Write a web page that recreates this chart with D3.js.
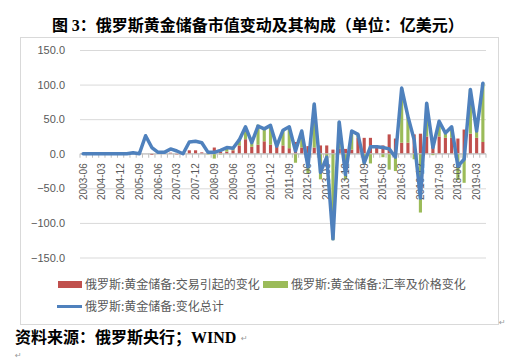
<!DOCTYPE html>
<html><head><meta charset="utf-8">
<script src="https://cdn.jsdelivr.net/npm/d3@7"></script>
<style>body{margin:0;background:#fff}</style></head>
<body>
<svg id="c" width="525" height="362"></svg>
<script>
const quarters = [
"2003-06","2003-09","2003-12","2004-03","2004-06","2004-09","2004-12","2005-03","2005-06","2005-09","2005-12",
"2006-03","2006-06","2006-09","2006-12","2007-03","2007-06","2007-09","2007-12","2008-03","2008-06","2008-09",
"2008-12","2009-03","2009-06","2009-09","2009-12","2010-03","2010-06","2010-09","2010-12","2011-03","2011-06",
"2011-09","2011-12","2012-03","2012-06","2012-09","2012-12","2013-03","2013-06","2013-09","2013-12","2014-03",
"2014-06","2014-09","2014-12","2015-03","2015-06","2015-09","2015-12","2016-03","2016-06","2016-09","2016-12",
"2017-03","2017-06","2017-09","2017-12","2018-03","2018-06","2018-09","2018-12","2019-03","2019-06"];
const tickLabels = ["2003-06","2004-03","2004-12","2005-09","2006-06","2007-03","2007-12","2008-09","2009-06",
"2010-03","2010-12","2011-09","2012-06","2013-03","2013-12","2014-09","2015-06","2016-03","2016-12","2017-09",
"2018-06","2019-03"];
const yTicks = [-150,-100,-50,0,50,100,150];
const seriesNames = ["俄罗斯:黄金储备:交易引起的变化","俄罗斯:黄金储备:汇率及价格变化","俄罗斯:黄金储备:变化总计"];
const tradeChange = [0,0,0,0,0,0,0,0,0,0,0,-1.5,0,0,1.5,-1,0,5,5,2,1,9,3,3,5,12,21,10,13,18,13,11,12,8,17,9,11,9,12,12,6,7,7,6,23,23,23,12,12,28,22,16,16,28,29,25,11,25,23,23,22,35,29,23,17];
const priceChange = [0,0,0,0,0,0,0,0,0,0,0,0,0,0,0,0,0,0,0,0,-1,-7,-1,6,3,9,16,6,29,17,27,2,22,30,-13,23,-28,62,-37,-12,-125,39,-37,27,5,-15,-14,0,-5,-23,-25,79,38,-8,-85,48,-2,22,7,15,-38,-42,64,10,85];
const totalChange = [0,0,0,0,0,0,0,0,1.5,0,26,9,2,2,7,4,0,17,18,16,2,2,5,9,8,20,39,16,40,36,41,11,34,39,4,33,-19,72,-27,-5,-123,46,-30,33,28,-13,10,10,9,7,-5,95,54,20,-64,73,9,47,30,39,-18,-8,93,33,102];

const svg = d3.select("#c");
const cjk = "'Noto Sans CJK SC', 'Noto Sans', sans-serif";
const lat = "'Liberation Sans', Arial, sans-serif";
const serif = "'Liberation Serif', 'Times New Roman', serif";

// frame
svg.append("rect").attr("x",20.5).attr("y",37.5).attr("width",478).attr("height",287)
  .attr("fill","none").attr("stroke","#d9d9d9");

// title
const title = svg.append("text").attr("x",52).attr("y",31).attr("font-family",cjk).attr("font-weight","bold")
  .attr("font-size",16).attr("fill","#000");
title.append("tspan").text("图 ");
title.append("tspan").attr("font-family",serif).text("3");
title.append("tspan").text("：俄罗斯黄金储备市值变动及其构成（单位：亿美元）");

const x = d3.scaleBand().domain(quarters).range([80,486]).paddingInner(0.5).paddingOuter(0.25);
const y = d3.scaleLinear().domain([-150,150]).range([257.5,50]);
const cx = d => x(d) + x.bandwidth()/2;

// y axis with gridlines
const ya = svg.append("g").attr("transform","translate(80,0)")
  .call(d3.axisLeft(y).tickValues(yTicks).tickFormat(d3.format(".1f")).tickSize(-406).tickPadding(15));
ya.select(".domain").remove();
ya.selectAll(".tick line").attr("stroke","#d9d9d9").attr("stroke-width",1);
ya.selectAll(".tick text").attr("font-family",lat).attr("font-size",11).attr("fill","#595959");

// stacked bars
const rows = quarters.map((q,i)=>({q, trade: tradeChange[i], price: priceChange[i]}));
const stack = d3.stack().keys(["trade","price"]).offset(d3.stackOffsetDiverging)(rows);
const colors = {trade:"#c0504d", price:"#9bbb59"};
svg.append("g").selectAll("g").data(stack).join("g").attr("fill",d=>colors[d.key])
  .selectAll("rect").data(d=>d).join("rect")
  .attr("x",d=>x(d.data.q)).attr("width",x.bandwidth())
  .attr("y",d=>y(Math.max(d[0],d[1]))).attr("height",d=>Math.abs(y(d[0])-y(d[1])));

// zero axis with category ticks
const y0 = y(0);
const xa = svg.append("g").attr("transform",`translate(0,${y0})`);
xa.append("line").attr("x1",80).attr("x2",486).attr("y1",0).attr("y2",0).attr("stroke","#bfbfbf");
const step = x.step();
xa.selectAll("line.t").data(d3.range(quarters.length+1)).join("line").attr("class","t")
  .attr("x1",k=>80+k*step).attr("x2",k=>80+k*step).attr("y1",0).attr("y2",4).attr("stroke","#bfbfbf");
xa.selectAll("text").data(tickLabels).join("text")
  .attr("transform",d=>`translate(${cx(d)},${9.5}) rotate(-90)`)
  .attr("text-anchor","end").attr("dy","0.35em")
  .attr("font-family",lat).attr("font-size",10).attr("fill","#595959").text(d=>d);

// total line
const line = d3.line().x((d,i)=>cx(quarters[i])).y(d=>y(d));
svg.append("path").datum(totalChange).attr("d",line).attr("fill","none")
  .attr("stroke","#4f81bd").attr("stroke-width",3.5).attr("stroke-linejoin","round").attr("stroke-linecap","round");

// legend
const lg = svg.append("g").attr("font-family",cjk).attr("font-size",12).attr("fill","#595959");
lg.append("rect").attr("x",58).attr("y",281).attr("width",24).attr("height",7).attr("fill",colors.trade);
lg.append("text").attr("x",85).attr("y",288.5).text(seriesNames[0]);
lg.append("rect").attr("x",263).attr("y",281).attr("width",25).attr("height",7).attr("fill",colors.price);
lg.append("text").attr("x",291).attr("y",288.5).text(seriesNames[1]);
lg.append("line").attr("x1",57).attr("x2",82).attr("y1",306.5).attr("y2",306.5).attr("stroke","#4f81bd").attr("stroke-width",3);
lg.append("text").attr("x",85).attr("y",311).text(seriesNames[2]);

// source
const src = svg.append("text").attr("x",15).attr("y",343).attr("font-family",cjk).attr("font-weight","bold")
  .attr("font-size",16).attr("fill","#000");
src.append("tspan").text("资料来源：俄罗斯央行；");
src.append("tspan").attr("font-family",serif).text("WIND");

// paragraph marks
[[499,325],[241,341],[15,358]].forEach(p=>svg.append("text").attr("x",p[0]).attr("y",p[1])
  .attr("font-family","'DejaVu Sans'").attr("font-size",8).attr("fill","#999").text("↵"));
</script>
</body></html>
